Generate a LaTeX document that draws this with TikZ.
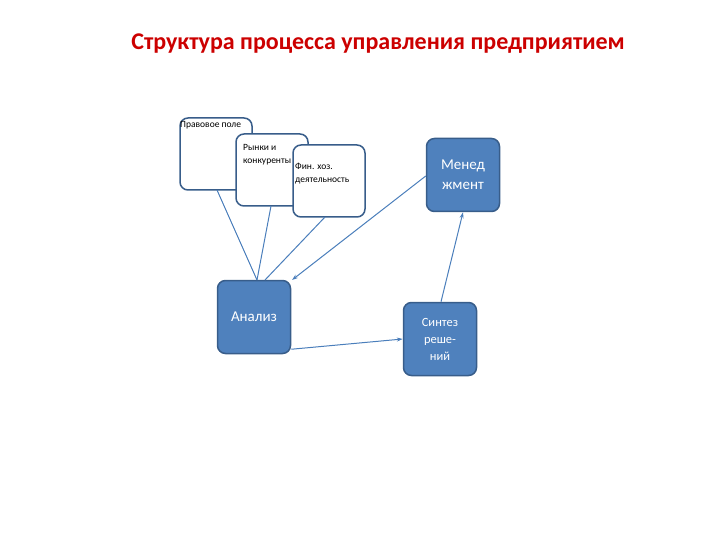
\documentclass[tikz,border=0pt]{standalone}
\usepackage{fontspec}
\setmainfont{Carlito}
\usetikzlibrary{arrows.meta}
\definecolor{bord}{RGB}{56,93,138}
\definecolor{fillb}{RGB}{79,129,189}
\definecolor{lnc}{RGB}{74,126,187}
\begin{document}
\begin{tikzpicture}[x=1pt,y=-1pt,
 wbox/.style={draw=bord,line width=1.5pt,fill=white,rounded corners=8pt,minimum width=72pt,minimum height=72pt,inner sep=1pt},
 bbox/.style={draw=bord,line width=1.5pt,fill=fillb,rounded corners=8pt,minimum width=73pt,minimum height=73pt,text=white,font=\fontsize{15}{20}\selectfont,align=center},
 conn/.style={draw=lnc,line width=1pt},
 arr/.style={conn,-{Stealth[length=6pt,width=4pt]}}]
\useasboundingbox (0,0) rectangle (720,540);
\node[font=\bfseries\fontsize{24}{26}\selectfont,text={rgb,255:red,204;green,0;blue,0}] (t) at (378,44) {Структура процесса управления предприятием};
\node[wbox] (p) at (216,154) {};
\node[anchor=north west,font=\fontsize{9.5}{10}\selectfont,inner sep=0pt] (pt) at (180,121) {Правовое поле};
\node[wbox] (r) at (272,170) {};
\node[anchor=north west,font=\fontsize{9.5}{13}\selectfont,inner sep=0pt,align=left] (rt) at (243,144) {Рынки и\\конкуренты};
\node[wbox] (f) at (329,181) {};
\node[anchor=north west,font=\fontsize{9.5}{13}\selectfont,inner sep=0pt,align=left] (ft) at (295,163) {Фин. хоз.\\деятельность};
\node[bbox] (m) at (463,175) {Менед\\жмент};
\node[bbox] (a) at (254,317) {Анализ};
\node[bbox,font=\fontsize{12.5}{17}\selectfont] (s) at (440,339) {Синтез\\реше-\\ний};
\coordinate (a1) at (257,280);
\coordinate (a2) at (265,280);
\draw[conn] (217,190) -- (a1);
\draw[conn] (271,206) -- (a1);
\draw[conn] (325,217) -- (a2);
\draw[arr] (m.west) ++(0,1) -- (292,280);
\draw[arr] (a.south east) ++(0,-5) -- (s.west);
\draw[arr] (s.north) ++(1,0) -- (m.south);
\end{tikzpicture}
\end{document}
